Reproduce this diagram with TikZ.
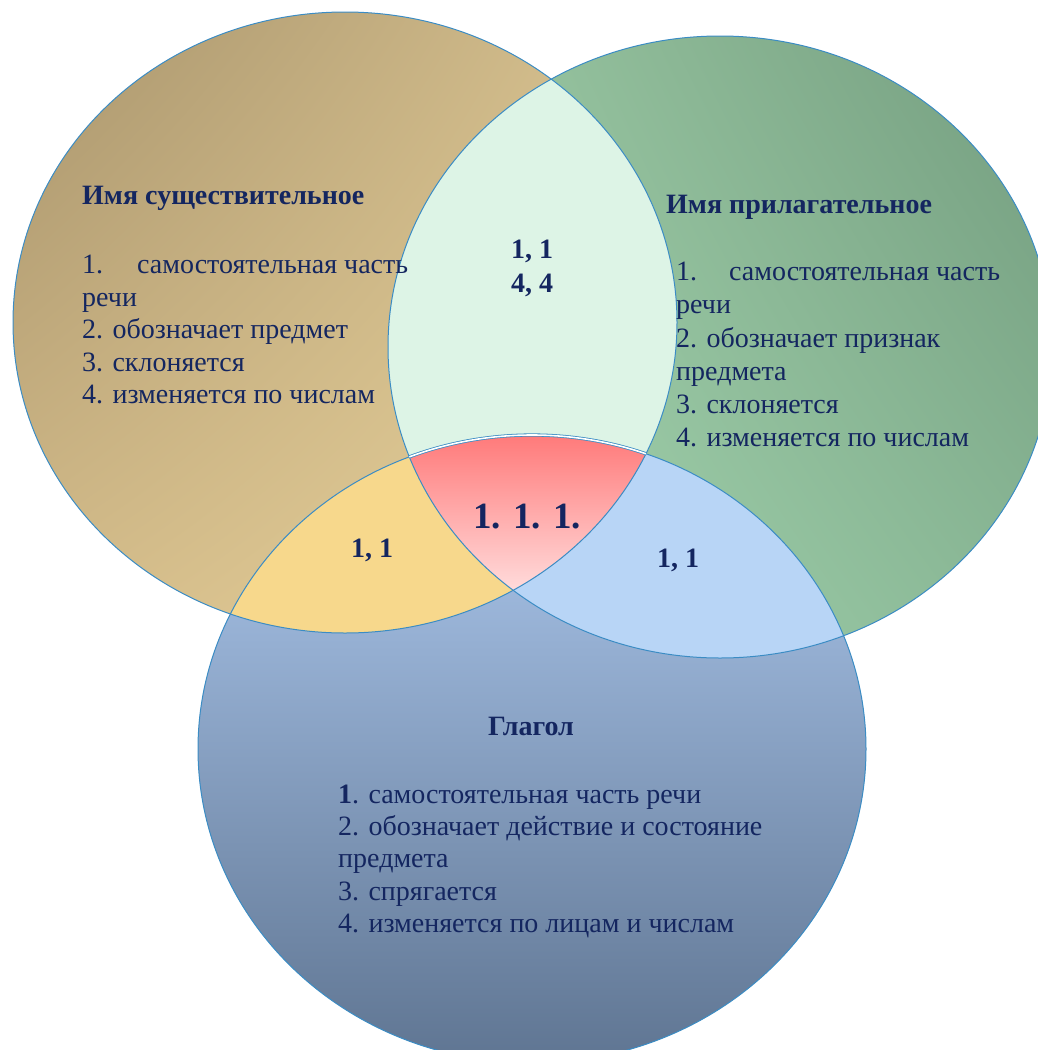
\documentclass[tikz,border=0pt]{standalone}
\usepackage{fontspec}
\setmainfont{Liberation Serif}
\usetikzlibrary{shadings}
\definecolor{edge}{HTML}{3B8CC4}
\definecolor{ink}{HTML}{142660}
\definecolor{lensmint}{HTML}{DDF4E6}
\definecolor{lensyellow}{HTML}{F7D88C}
\definecolor{lensblue}{HTML}{B8D5F6}
\definecolor{redtop}{HTML}{FF7878}
\definecolor{redbot}{HTML}{FFDEDE}
\definecolor{tanUL}{HTML}{A8946C}
\definecolor{tanUR}{HTML}{D8C290}
\definecolor{tanLL}{HTML}{D4BC8A}
\definecolor{tanLR}{HTML}{EAD49C}
\definecolor{grUL}{HTML}{9CCAA5}
\definecolor{grUR}{HTML}{739C7E}
\definecolor{grLL}{HTML}{A8DAB4}
\definecolor{grLR}{HTML}{8AB896}
\definecolor{blTop}{HTML}{B0CCF2}
\definecolor{blBot}{HTML}{5F7592}
\begin{document}
\begin{tikzpicture}[x=1pt,y=-1pt,
  Lpath/.style={insert path={(345,322.5) ellipse [x radius=332pt, y radius=310.5pt]}},
  Rpath/.style={insert path={(720,347) ellipse [x radius=332pt, y radius=311pt]}},
  Bpath/.style={insert path={(532,749) ellipse [x radius=334pt, y radius=314pt]}},
  outline/.style={draw=edge, line width=1pt},
  txt/.style={font=\fontsize{28}{33}\selectfont, text=ink, inner sep=0pt, anchor=base west},
  ttl/.style={txt, font=\fontsize{28}{33}\selectfont\bfseries},
  num/.style={txt, anchor=base, font=\fontsize{28}{33}\selectfont\bfseries},
  bignum/.style={txt, anchor=base, font=\fontsize{37}{40}\selectfont\bfseries}]
\useasboundingbox (0,0) rectangle (1038,1050);
\begin{scope}
\clip (0,0) rectangle (1038,1050);
% main discs
\shade[Lpath, upper left=tanUL, upper right=tanUR, lower left=tanLL, lower right=tanLR];
\shade[Rpath, upper left=grUL, upper right=grUR, lower left=grLL, lower right=grLR];
\shade[Bpath, top color=blTop, bottom color=blBot];
% pairwise overlaps
\begin{scope}\clip[Lpath]; \fill[Rpath, fill=lensmint];\end{scope}
\begin{scope}\clip[Lpath]; \fill[Bpath, fill=lensyellow];\end{scope}
\begin{scope}\clip[Rpath]; \fill[Bpath, fill=lensblue];\end{scope}
% triple overlap
\begin{scope}\clip[Lpath]; \clip[Rpath]; \clip[Bpath];
  \shade[top color=redtop, bottom color=redbot] (400,432) rectangle (660,595);
\end{scope}
% outlines
\draw[Lpath, outline];
\draw[Rpath, outline];
\draw[Bpath, outline];
\begin{scope}\clip[Lpath]; \clip[Rpath];
  \draw[Bpath, draw=edge, line width=0.8pt, double=white, double distance=1.6pt];
\end{scope}
\end{scope}
% noun
\node[ttl] (nounT) at (82,204) {Имя существительное};
\node[txt] (noun1) at (82,273) {\makebox[55pt][l]{1.}самостоятельная часть};
\node[txt] (noun1b) at (82,306) {речи};
\node[txt] (noun2) at (82,338) {2. обозначает предмет};
\node[txt] (noun3) at (82,371) {3. склоняется};
\node[txt] (noun4) at (82,403) {4. изменяется по числам};
% adjective
\node[ttl] (adjT) at (666,213) {Имя прилагательное};
\node[txt] (adj1) at (676,280) {\makebox[53pt][l]{1.}самостоятельная часть};
\node[txt] (adj1b) at (676,313) {речи};
\node[txt] (adj2) at (676,347) {2. обозначает признак};
\node[txt] (adj2b) at (676,380) {предмета};
\node[txt] (adj3) at (676,413) {3. склоняется};
\node[txt] (adj4) at (676,446) {4. изменяется по числам};
% verb
\node[num] (verbT) at (531,735) {Глагол};
\node[txt] (verb1) at (338,803) {\textbf{1}. самостоятельная часть речи};
\node[txt] (verb2) at (338,835) {2. обозначает действие и состояние};
\node[txt] (verb2b) at (338,867) {предмета};
\node[txt] (verb3) at (338,900) {3. спрягается};
\node[txt] (verb4) at (338,932) {4. изменяется по лицам и числам};
% overlap labels
\node[num] (lrA) at (532,258) {1, 1};
\node[num] (lrB) at (532,292) {4, 4};
\node[num] (lb) at (372,557) {1, 1};
\node[num] (rb) at (678,567) {1, 1};
\node[bignum] (lrb) at (527,528) {1. 1. 1.};
\end{tikzpicture}
\end{document}
